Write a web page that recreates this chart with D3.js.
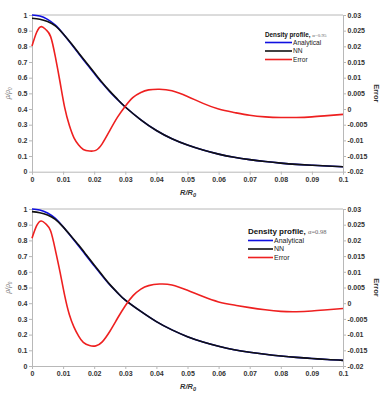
<!DOCTYPE html>
<html><head><meta charset="utf-8">
<script src="https://cdn.jsdelivr.net/npm/d3@7"></script>
<style>body{margin:0;background:#fff}svg{display:block}text{font-family:"Liberation Sans",Arial,sans-serif}</style>
</head><body><svg id="c" width="387" height="402"></svg>
<script>
const xTicks=[0,0.01,0.02,0.03,0.04,0.05,0.06,0.07,0.08,0.09,0.1];
const yTicks=[0,0.1,0.2,0.3,0.4,0.5,0.6,0.7,0.8,0.9,1];
const errTicks=[-0.02,-0.015,-0.01,-0.005,0,0.005,0.01,0.015,0.02,0.025,0.03];
const errTickLabels=["-0.02","-0.015","-0.01","-0.005","0","0.005","0.01","0.015","0.02","0.025","0.03"];

const densX=[0,0.0025,0.005,0.0075,0.01,0.0125,0.015,0.0175,0.02,0.0225,0.025,0.0275,0.03,0.035,0.04,0.045,0.05,0.055,0.06,0.065,0.07,0.075,0.08,0.085,0.09,0.095,0.1];
const anaTop=[1.0,0.993,0.972,0.935,0.88,0.818,0.754,0.69,0.628,0.567,0.511,0.46,0.413,0.331,0.263,0.21,0.17,0.138,0.112,0.092,0.077,0.065,0.055,0.047,0.041,0.036,0.032];
const nnTop=[0.979,0.973,0.958,0.93,0.88,0.821,0.758,0.695,0.633,0.571,0.514,0.462,0.413,0.331,0.263,0.21,0.17,0.138,0.112,0.092,0.077,0.065,0.055,0.047,0.041,0.036,0.032];
const anaBot=[1.0,0.994,0.975,0.94,0.887,0.827,0.765,0.701,0.638,0.576,0.517,0.466,0.42,0.348,0.283,0.23,0.187,0.153,0.126,0.104,0.088,0.075,0.064,0.055,0.048,0.041,0.036];
const nnBot=[0.983,0.976,0.962,0.934,0.886,0.829,0.77,0.707,0.644,0.581,0.52,0.467,0.42,0.348,0.283,0.23,0.187,0.153,0.126,0.104,0.088,0.075,0.064,0.055,0.048,0.041,0.036];

const errX=[0,0.0015,0.003,0.0045,0.006,0.0075,0.009,0.0105,0.012,0.0135,0.015,0.0165,0.0185,0.0205,0.0225,0.025,0.0275,0.03,0.0325,0.035,0.0375,0.041,0.045,0.05,0.055,0.06,0.065,0.07,0.075,0.08,0.085,0.09,0.095,0.1];
const errTop=[0.0201,0.0245,0.0263,0.0253,0.0231,0.0167,0.0087,0.0005,-0.0052,-0.0092,-0.0115,-0.0129,-0.0134,-0.0132,-0.0112,-0.0069,-0.0026,0.0009,0.0037,0.0053,0.0061,0.0063,0.0058,0.004,0.0018,0.0,-0.0011,-0.002,-0.0025,-0.0027,-0.0027,-0.0025,-0.0021,-0.0017];
const errBot=[0.0207,0.0247,0.0262,0.0252,0.0230,0.0170,0.0100,0.0025,-0.0036,-0.0076,-0.0105,-0.0125,-0.0135,-0.0136,-0.0124,-0.0090,-0.0048,-0.0008,0.0024,0.0045,0.0056,0.0061,0.0058,0.0041,0.0021,0.0004,-0.0006,-0.0014,-0.0021,-0.0026,-0.0027,-0.0025,-0.0021,-0.0017];

const panels=[
 {top:15,bottom:171.7,ana:anaTop,nn:nnTop,err:errTop,alpha:"\u03b1=0.95",
  leg:{x:265,x2:292,ty:37,ys:[42.5,51,59.5],tfs:6.3,afs:5,fs:6.6},
  xlabY:195},
 {top:209,bottom:366,ana:anaBot,nn:nnBot,err:errBot,alpha:"\u03b1=0.98",
  leg:{x:248,x2:273,ty:233.5,ys:[240.5,249,257.5],tfs:8,afs:6.5,fs:7},
  xlabY:389}
];
const svg=d3.select("#c");
const L=32,R=343;
const x=d3.scaleLinear().domain([0,0.1]).range([L,R]);
const axisCol="#b8b8b8", lab="#333";

panels.forEach(p=>{
  const y=d3.scaleLinear().domain([0,1]).range([p.bottom,p.top]);
  const ye=d3.scaleLinear().domain([-0.02,0.03]).range([p.bottom,p.top]);
  const g=svg.append("g");
  g.append("line").attr("x1",L).attr("x2",R).attr("y1",y(1)).attr("y2",y(1)).attr("stroke",axisCol).attr("stroke-width",1);
  const styleAxis=sel=>{sel.select(".domain").attr("stroke",axisCol).attr("stroke-width",1);
    sel.selectAll(".tick line").attr("stroke",axisCol);
    sel.selectAll("text").attr("fill",lab).attr("font-weight","bold").attr("font-size",7).attr("font-family","Liberation Sans, Arial, sans-serif");};
  g.append("g").attr("transform",`translate(${L},0)`)
   .call(d3.axisLeft(y).tickValues(yTicks).tickFormat(d3.format("")).tickSize(3).tickSizeOuter(0).tickPadding(1.5)).call(styleAxis);
  g.append("g").attr("transform",`translate(${R},0)`)
   .call(d3.axisRight(ye).tickValues(errTicks).tickFormat((d,i)=>errTickLabels[i]).tickSize(3).tickSizeOuter(0).tickPadding(1.5)).call(styleAxis);
  g.append("g").attr("transform",`translate(0,${p.bottom})`)
   .call(d3.axisBottom(x).tickValues(xTicks).tickFormat(d3.format("")).tickSize(3).tickSizeOuter(0).tickPadding(2)).call(styleAxis);

  const line=(xs,ys,sc)=>d3.line().x((d,i)=>x(xs[i])).y(d=>sc(d)).curve(d3.curveNatural)(ys);
  g.append("path").attr("d",line(densX,p.ana,y)).attr("fill","none").attr("stroke","#1010e0").attr("stroke-width",1.6);
  g.append("path").attr("d",line(densX,p.nn,y)).attr("fill","none").attr("stroke","#111").attr("stroke-width",1.6);
  g.append("path").attr("d",line(errX,p.err,ye)).attr("fill","none").attr("stroke","#ee2020").attr("stroke-width",1.6);

  const xl=g.append("text").attr("x",188).attr("y",p.xlabY).attr("text-anchor","middle").attr("font-size",7.5).attr("font-weight","bold").attr("font-style","italic").attr("fill",lab);
  xl.append("tspan").text("R/R");
  xl.append("tspan").attr("font-size",5.5).attr("dy",2).text("0");
  const mid=(p.top+p.bottom)/2;
  const yl=g.append("text").attr("transform",`translate(10,${mid}) rotate(-90)`).attr("text-anchor","middle").attr("font-size",6.5).attr("fill","#777").attr("font-family","Liberation Serif, serif").attr("font-style","italic");
  yl.append("tspan").text("\u03c1/\u03c1");
  yl.append("tspan").attr("font-size",4.5).attr("dy",1.5).text("0");
  g.append("text").attr("transform",`translate(374,${mid}) rotate(90)`).attr("text-anchor","middle").attr("font-size",7.5).attr("font-weight","bold").attr("fill",lab).text("Error");

  const lg=p.leg;
  const t=g.append("text").attr("x",lg.x).attr("y",lg.ty).attr("fill","#111").attr("font-size",lg.tfs).attr("font-weight","bold");
  t.append("tspan").text("Density profile, ");
  t.append("tspan").attr("font-weight","normal").attr("font-size",lg.afs).attr("fill","#666").attr("font-family","Liberation Serif, serif").text(p.alpha);
  [["Analytical","#1010e0"],["NN","#111"],["Error","#ee2020"]].forEach((e,i)=>{
    g.append("line").attr("x1",lg.x).attr("x2",lg.x2).attr("y1",lg.ys[i]).attr("y2",lg.ys[i]).attr("stroke",e[1]).attr("stroke-width",1.6);
    g.append("text").attr("x",lg.x2+1).attr("y",lg.ys[i]+2.4).attr("font-size",lg.fs).attr("fill","#222").text(e[0]);
  });
});
</script></body></html>
